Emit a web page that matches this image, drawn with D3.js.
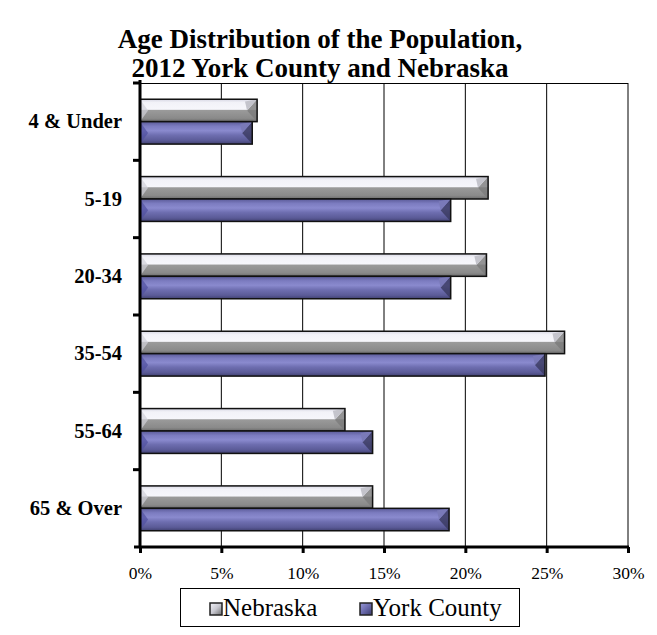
<!DOCTYPE html>
<html><head><meta charset="utf-8">
<script src="https://cdn.jsdelivr.net/npm/d3@7"></script>
<style>body{margin:0;background:#fff} text{font-family:'Liberation Serif','Times New Roman',serif}</style>
</head><body>
<svg id="chart" width="657" height="635"></svg>
<script>
const categories = ["4 & Under","5-19","20-34","35-54","55-64","65 & Over"];
const nebraska = [7.2, 21.4, 21.3, 26.1, 12.6, 14.3];
const york = [6.9, 19.1, 19.1, 24.9, 14.3, 19.0];
const seriesNames = ["Nebraska","York County"];
const xTicks = [0,5,10,15,20,25,30];
const titleLines = ["Age Distribution of the Population,","2012 York County and Nebraska"];

(function(){
const svg = d3.select("#chart");
const font = "'Liberation Serif','Times New Roman',serif";
const pL = 140, pR = 628, pT = 83, pB = 547;

const x = d3.scaleLinear().domain([0,30]).range([pL,pR]);
const y = d3.scaleBand().domain(categories).range([pT,pB]).paddingInner(0.42).paddingOuter(0.21);
const ySub = d3.scaleBand().domain(seriesNames).range([0,y.bandwidth()]);

const defs = svg.append("defs");
const gN = defs.append("linearGradient").attr("id","gN").attr("x1",0).attr("y1",0).attr("x2",0).attr("y2",1);
[[0,"#d8d8e4"],[0.15,"#f2f2f8"],[0.45,"#f6f6fb"],[0.5,"#9a9a9a"],[0.85,"#8a8a8a"],[1,"#6a6a6a"]].forEach(s=>gN.append("stop").attr("offset",s[0]).attr("stop-color",s[1]));
const gY = defs.append("linearGradient").attr("id","gY").attr("x1",0).attr("y1",0).attr("x2",0).attr("y2",1);
[[0,"#5a5a98"],[0.2,"#7c7cc0"],[0.4,"#8a8ace"],[0.6,"#6e6eb0"],[0.85,"#5a5a96"],[1,"#404070"]].forEach(s=>gY.append("stop").attr("offset",s[0]).attr("stop-color",s[1]));
const gNleg = defs.append("linearGradient").attr("id","gNleg").attr("x1",0).attr("y1",0).attr("x2",1).attr("y2",1);
[[0,"#f4f4fa"],[0.5,"#c8c8d0"],[1,"#6a6a6a"]].forEach(s=>gNleg.append("stop").attr("offset",s[0]).attr("stop-color",s[1]));
const gYleg = defs.append("linearGradient").attr("id","gYleg").attr("x1",0).attr("y1",0).attr("x2",1).attr("y2",1);
[[0,"#9a9ad8"],[0.5,"#6a6aac"],[1,"#3a3a6a"]].forEach(s=>gYleg.append("stop").attr("offset",s[0]).attr("stop-color",s[1]));

// title
svg.append("g").selectAll("text").data(titleLines).join("text")
  .attr("x",320).attr("y",(d,i)=>48+i*29).attr("text-anchor","middle")
  .style("font-family",font).attr("font-weight","bold").attr("font-size",27).text(d=>d);

// gridlines
svg.append("g").selectAll("line").data(xTicks.slice(1)).join("line")
  .attr("x1",d=>x(d)).attr("x2",d=>x(d)).attr("y1",pT).attr("y2",pB)
  .attr("stroke","#000").attr("stroke-width",1);
svg.append("line").attr("x1",pL).attr("x2",pR).attr("y1",pT+0.5).attr("y2",pT+0.5).attr("stroke","#000");

// bars
const data = categories.map((c,i)=>({c, vals:[{s:"Nebraska",v:nebraska[i]},{s:"York County",v:york[i]}]}));
const groups = svg.append("g").selectAll("g").data(data).join("g").attr("transform",d=>`translate(0,${y(d.c)})`);
groups.each(function(d){
  const g = d3.select(this);
  d.vals.forEach(b=>{
    const y0 = ySub(b.s), h = ySub.bandwidth(), x0 = x(0), x1 = x(b.v);
    const isN = b.s==="Nebraska";
    g.append("rect").attr("x",x0).attr("y",y0).attr("width",x1-x0).attr("height",h)
      .attr("fill",isN?"url(#gN)":"url(#gY)");
    const bv = h*0.45;
    g.append("path").attr("d",`M${x1-bv},${y0+h*0.5} L${x1},${y0} L${x1},${y0+h} Z`)
      .attr("fill",isN?"#7a7a7a":"#38385e").attr("opacity",0.8);
    g.append("path").attr("d",`M${x1-bv},${y0+h*0.5} L${x1},${y0} L${x1-bv*1.2},${y0+h*0.1} Z`)
      .attr("fill",isN?"#c4c4cc":"#7a7ab8");
    g.append("path").attr("d",`M${x0},${y0} L${x0+bv*0.8},${y0+h*0.5} L${x0},${y0+h} Z`)
      .attr("fill",isN?"#d0d0d8":"#5050a0").attr("opacity",0.7);
    g.append("rect").attr("x",x0).attr("y",y0).attr("width",x1-x0).attr("height",h)
      .attr("fill","none").attr("stroke","#111").attr("stroke-width",1.5);
  });
});

// axes
const xAxis = svg.append("g").attr("transform",`translate(0,${pB})`)
  .call(d3.axisBottom(x).tickValues(xTicks).tickFormat(d=>d+"%").tickSize(6).tickPadding(14));
xAxis.attr("font-family",null);
xAxis.select(".domain").attr("stroke","#000").attr("stroke-width",3).attr("d",`M${pL-6},0H${pR+1}`);
xAxis.selectAll(".tick line").attr("stroke","#000").attr("stroke-width",3);
xAxis.selectAll("text").style("font-family",font).attr("font-size",17.5).attr("fill","#000");

const yEdges = d3.range(categories.length+1).map(i=>pT + i*(pB-pT)/categories.length);
const yAxis = svg.append("g").attr("transform",`translate(${pL},0)`)
  .call(d3.axisLeft(y).tickSize(0).tickPadding(18));
yAxis.attr("font-family",null);
yAxis.select(".domain").attr("stroke","#000").attr("stroke-width",3).attr("d",`M0,${pT-3}V${pB}`);
yAxis.selectAll("text").style("font-family",font).attr("font-size",20.5).attr("font-weight","bold").attr("fill","#000");
svg.append("g").selectAll("line").data(yEdges.slice(0,-1)).join("line")
  .attr("x1",pL-7).attr("x2",pL).attr("y1",d=>d).attr("y2",d=>d)
  .attr("stroke","#000").attr("stroke-width",3);

// legend
const lg = svg.append("g");
lg.append("rect").attr("x",180.5).attr("y",588.5).attr("width",339).attr("height",38)
  .attr("fill","#fff").attr("stroke","#000");
const legX = [210, 360];
seriesNames.forEach((s,i)=>{
  lg.append("rect").attr("x",legX[i]).attr("y",603).attr("width",12).attr("height",12)
    .attr("fill",i===0?"url(#gNleg)":"url(#gYleg)").attr("stroke","#222").attr("stroke-width",1.5);
  lg.append("text").attr("x",legX[i]+13).attr("y",616).style("font-family",font).attr("font-size",25)
    .attr("fill","#000").text(s);
});
})();
</script>
</body></html>
